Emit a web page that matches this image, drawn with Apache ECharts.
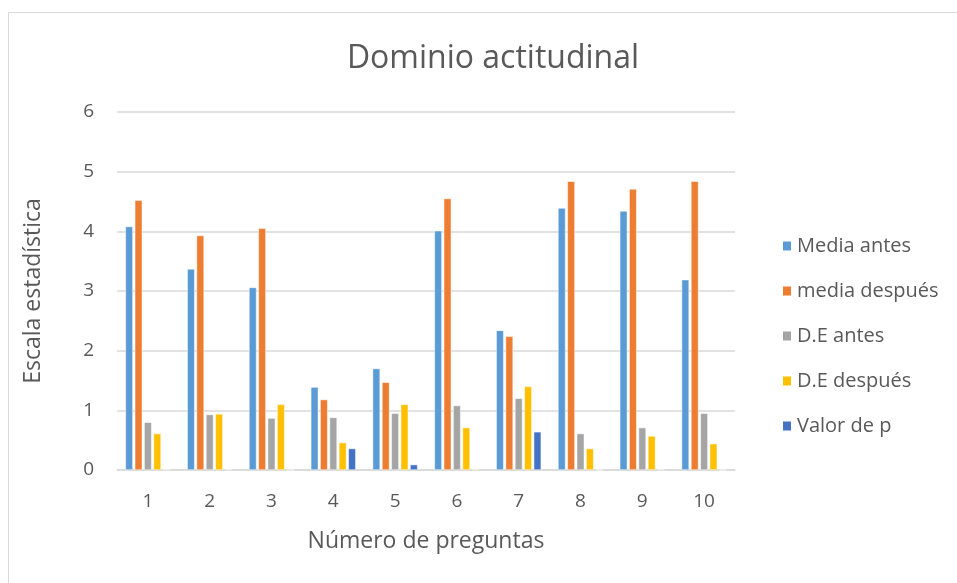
<!DOCTYPE html>
<html>
<head>
<meta charset="utf-8">
<script src="https://cdn.jsdelivr.net/npm/echarts@6/dist/echarts.min.js"></script>
<style>
html,body{margin:0;padding:0;background:#fff}
#chart{width:957px;height:583px}
</style>
</head>
<body>
<div id="chart"></div>
<script>
// datos
const preguntas = ["1","2","3","4","5","6","7","8","9","10"]
const mediaAntes = [4.08,3.37,3.06,1.39,1.70,4.01,2.34,4.39,4.34,3.19]
const mediaDespues = [4.52,3.93,4.05,1.18,1.47,4.55,2.24,4.84,4.71,4.84]
const deAntes = [0.80,0.93,0.87,0.88,0.95,1.08,1.20,0.61,0.71,0.95]
const deDespues = [0.61,0.94,1.10,0.46,1.10,0.71,1.40,0.36,0.57,0.44]
const valorP = [0.01,0.01,0,0.36,0.09,0.01,0.64,0,0.01,0]

const fuente = "Open Sans"
const gris = "#595959"

const mkSerie = (name,data,color) => ({
	name: name,
	type: "bar",
	data: data,
	barWidth: 7.5,
	barGap: "25%",
	itemStyle: {color: color, borderColor: "#fff", borderWidth: 0.5}
})

const chart = echarts.init(document.getElementById("chart"))
chart.setOption({
	animation: false,
	textStyle: {fontFamily: fuente},
	title: {
		text: "Dominio actitudinal",
		left: 488,
		top: 38,
		textAlign: "center",
		textStyle: {fontFamily: fuente, fontSize: 32, fontWeight: "normal", color: gris}
	},
	graphic: [{
		type: "rect",
		shape: {x: 8.5, y: 12.5, width: 1200, height: 1200},
		style: {fill: "none", stroke: "#d9d9d9", lineWidth: 1}
	}],
	legend: {
		orient: "vertical",
		left: 776,
		top: 231,
		itemWidth: 10,
		itemHeight: 11,
		itemGap: 25,
		icon: "rect",
		textStyle: {fontFamily: fuente, fontSize: 20, lineHeight: 20, color: gris, padding: [0,0,0,0]}
	},
	grid: {left: 117, right: 222, top: 112, bottom: 113},
	xAxis: {
		type: "category",
		data: preguntas,
		name: "Número de preguntas",
		nameLocation: "middle",
		nameGap: 60,
		nameTextStyle: {fontSize: 23, color: gris},
		axisLine: {lineStyle: {color: "#d9d9d9", width: 1.5}},
		axisTick: {show: false},
		axisLabel: {fontSize: 19, color: gris, margin: 22}
	},
	yAxis: {
		type: "value",
		min: 0,
		max: 6,
		interval: 1,
		name: "Escala estadística",
		nameLocation: "middle",
		nameGap: 72,
		nameTextStyle: {fontSize: 23, color: gris},
		axisLine: {show: false},
		axisTick: {show: false},
		axisLabel: {fontSize: 19, color: gris, margin: 23},
		splitLine: {lineStyle: {color: "#d9d9d9", width: 1.5}}
	},
	series: [
		mkSerie("Media antes",mediaAntes,"#5b9bd5"),
		mkSerie("media después",mediaDespues,"#ed7d31"),
		mkSerie("D.E antes",deAntes,"#a5a5a5"),
		mkSerie("D.E después",deDespues,"#ffc000"),
		mkSerie("Valor de p",valorP,"#4472c4")
	]
})
</script>
</body>
</html>
